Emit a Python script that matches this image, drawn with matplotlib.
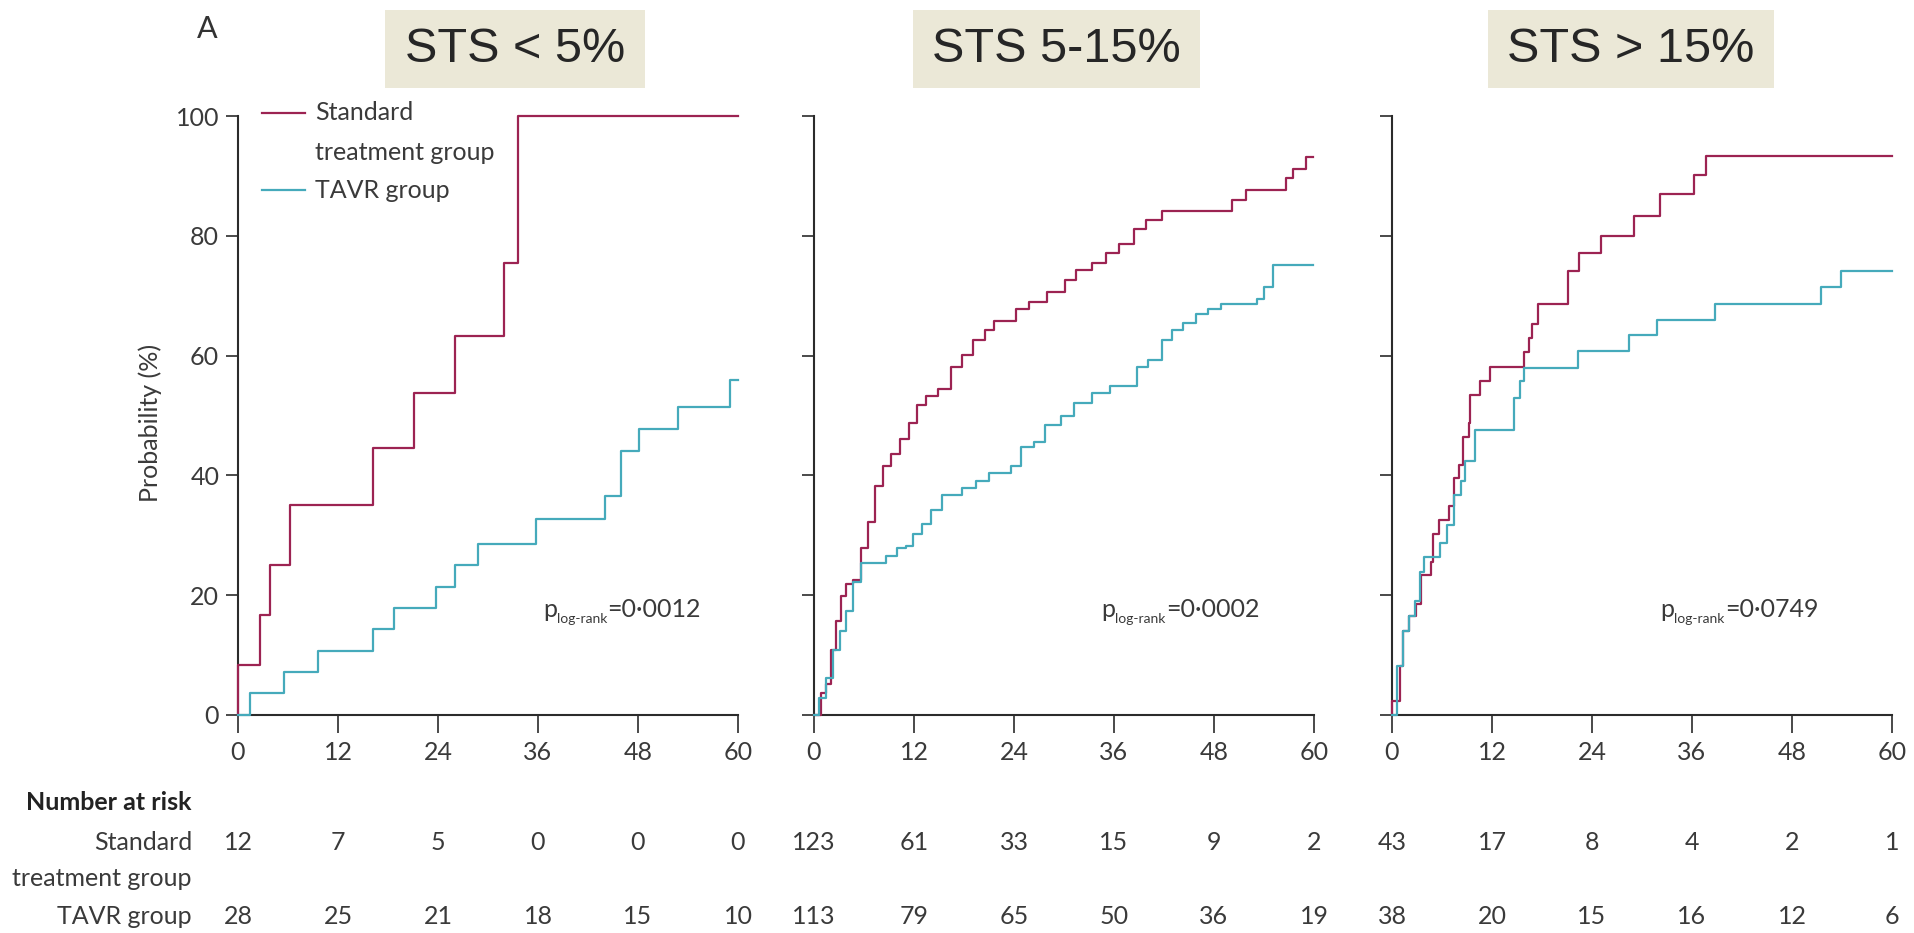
import matplotlib
matplotlib.use("Agg")
import matplotlib.pyplot as plt
from matplotlib.patches import Rectangle
from matplotlib.lines import Line2D
from matplotlib.transforms import blended_transform_factory

plt.rcParams['font.family'] = ['Lato', 'DejaVu Sans']

# ---------------- data ----------------
months = [0, 12, 24, 36, 48, 60]
yticks = [0, 20, 40, 60, 80, 100]
panel_titles = ["STS < 5%", "STS 5-15%", "STS > 15%"]
p_values = ["=0·0012", "=0·0002", "=0·0749"]

# STS < 5%
p1_std_t = [0, 0, 2.6, 3.9, 6.2, 16.2, 21.1, 26.0, 31.9, 33.6, 60]
p1_std_p = [0, 8.3, 16.7, 25.0, 35.1, 44.5, 53.8, 63.2, 75.4, 100, 100]
p1_tavr_t = [0, 1.4, 5.5, 9.6, 16.2, 18.7, 23.8, 26.0, 28.8, 35.8, 44.0, 46.0, 48.1, 52.8, 59.0, 60]
p1_tavr_p = [0, 3.6, 7.1, 10.7, 14.3, 17.9, 21.4, 25.0, 28.6, 32.7, 36.5, 44.0, 47.7, 51.4, 56.0, 56.0]

# STS 5-15%
p2_std_t = [0, 0.9, 1.4, 2.1, 2.7, 3.3, 3.8, 4.7, 5.7, 6.5, 7.3, 8.3, 9.2, 10.3, 11.4, 12.4,
            13.5, 14.9, 16.5, 17.8, 19.1, 20.5, 21.6, 24.2, 25.8, 28.0, 30.1, 31.5, 33.4, 35.0,
            36.6, 38.4, 39.8, 41.7, 50.2, 51.8, 56.7, 57.5, 59.1, 59.9]
p2_std_p = [0, 3.6, 5.2, 10.9, 15.7, 19.8, 21.8, 22.6, 27.8, 32.3, 38.3, 41.6, 43.6, 46.0, 48.8, 51.7,
            53.3, 54.5, 58.1, 60.1, 62.6, 64.2, 65.8, 67.8, 69.0, 70.6, 72.6, 74.3, 75.5, 77.1,
            78.7, 81.1, 82.7, 84.2, 86.0, 87.6, 89.6, 91.2, 93.2, 93.2]
p2_tavr_t = [0, 0.6, 1.4, 2.3, 3.1, 3.9, 4.7, 5.7, 8.7, 10.0, 11.1, 11.9, 13.0, 14.0, 15.4, 17.8,
             19.4, 21.0, 23.7, 24.8, 26.4, 27.7, 29.6, 31.2, 33.4, 35.5, 38.7, 40.1, 41.7, 43.0,
             44.3, 45.9, 47.3, 48.9, 53.2, 54.0, 55.1, 59.9]
p2_tavr_p = [0, 2.8, 6.1, 10.9, 14.1, 17.4, 22.2, 25.4, 26.6, 27.8, 28.2, 30.3, 31.9, 34.3, 36.7, 37.9,
             39.1, 40.4, 41.6, 44.8, 45.6, 48.4, 50.0, 52.1, 53.7, 54.9, 58.1, 59.3, 62.6, 64.2,
             65.4, 67.0, 67.8, 68.6, 69.4, 71.4, 75.1, 75.1]

# STS > 15%
p3_std_t = [0, 0, 1.0, 1.3, 2.0, 2.9, 3.5, 4.7, 4.9, 5.7, 6.9, 7.4, 8.0, 8.5, 9.2, 9.4, 10.6, 11.8,
            15.8, 16.5, 16.8, 17.5, 21.1, 22.5, 25.1, 29.0, 32.2, 36.2, 37.7, 60]
p3_std_p = [0, 2.3, 8.1, 14.1, 16.5, 18.6, 23.3, 25.6, 30.2, 32.5, 34.9, 39.5, 41.8, 46.4, 48.8, 53.4, 55.7, 58.1,
            60.6, 63.0, 65.3, 68.6, 74.2, 77.1, 79.9, 83.3, 86.9, 90.2, 93.4, 93.4]
p3_tavr_t = [0, 0.55, 1.3, 2.1, 2.8, 3.4, 3.8, 5.8, 6.6, 7.5, 8.3, 8.8, 10.0, 14.7, 15.4, 15.8,
             22.3, 28.4, 31.8, 38.7, 51.5, 53.9, 60]
p3_tavr_p = [0, 8.1, 14.1, 16.5, 19.0, 23.8, 26.4, 28.7, 31.7, 36.7, 39.1, 42.4, 47.6, 52.9, 55.7, 57.9,
             60.8, 63.4, 65.9, 68.6, 71.4, 74.1, 74.1]

# number at risk
risk_std = [[12, 7, 5, 0, 0, 0], [123, 61, 33, 15, 9, 2], [43, 17, 8, 4, 2, 1]]
risk_tavr = [[28, 25, 21, 18, 15, 10], [113, 79, 65, 50, 36, 19], [38, 20, 15, 16, 12, 6]]

std_t = [p1_std_t, p2_std_t, p3_std_t]
std_p = [p1_std_p, p2_std_p, p3_std_p]
tavr_t = [p1_tavr_t, p2_tavr_t, p3_tavr_t]
tavr_p = [p1_tavr_p, p2_tavr_p, p3_tavr_p]

# ---------------- style ----------------
C_STD = "#9C2352"
C_TAVR = "#45AABB"
C_TXT = "#3a3a3a"
C_AX = "#2b2b2b"
BOX = "#EBE8D7"

W, H = 1915, 933
def fx(px):
    return px / W
def fy(py):
    return 1 - py / H

fig = plt.figure(figsize=(W / 100, H / 100), dpi=100)
fig.patch.set_facecolor("white")

lefts = [238, 814, 1392]
ax_top, ax_bot, ax_w = 116, 715, 500
p_x = [36.6, 34.5, 32.2]
boxes = [(385, 10, 645, 88), (913, 10, 1200, 88), (1488, 10, 1774, 88)]

axes = []
for i in range(3):
    ax = fig.add_axes([fx(lefts[i]), fy(ax_bot), ax_w / W, (ax_bot - ax_top) / H])
    axes.append(ax)
    ax.set_xlim(0, 60)
    ax.set_ylim(0, 100)
    for s in ["top", "right"]:
        ax.spines[s].set_visible(False)
    for s in ["left", "bottom"]:
        ax.spines[s].set_linewidth(1.5)
        ax.spines[s].set_color(C_AX)
    ax.set_xticks(months)
    ax.set_yticks(yticks)
    ax.tick_params(axis="x", direction="out", length=13, width=1.2, color=C_AX,
                   labelsize=18, labelcolor=C_TXT, pad=6)
    ax.tick_params(axis="y", direction="out", length=8.5, width=1.2, color=C_AX,
                   labelsize=18, labelcolor=C_TXT, pad=5)
    if i > 0:
        ax.set_yticklabels([])

    ax.plot(std_t[i], std_p[i], drawstyle="steps-post", color=C_STD, lw=1.6,
            clip_on=False, zorder=3)
    ax.plot(tavr_t[i], tavr_p[i], drawstyle="steps-post", color=C_TAVR, lw=1.6,
            clip_on=False, zorder=3)

    # p log-rank annotation
    t1 = ax.text(p_x[i], 16.4, "p", fontsize=18, color=C_TXT, va="baseline", ha="left")
    t2 = ax.annotate("log-rank", xy=(1, 0), xycoords=t1, xytext=(0, -1.5),
                     textcoords="offset points", fontsize=10, color=C_TXT,
                     va="baseline", ha="left")
    ax.annotate(p_values[i], xy=(1, 16.4), xycoords=(t2, "data"), fontsize=18,
                color=C_TXT, va="baseline", ha="left")

    # number at risk
    tr = blended_transform_factory(ax.transData, fig.transFigure)
    for j, m in enumerate(months):
        ax.text(m, fy(842), str(risk_std[i][j]), transform=tr, ha="center", va="center",
                fontsize=18, color=C_TXT, clip_on=False)
        ax.text(m, fy(917), str(risk_tavr[i][j]), transform=tr, ha="center", va="center",
                fontsize=18, color=C_TXT, clip_on=False)

    # title box
    x0, y0, x1, y1 = boxes[i]
    fig.add_artist(Rectangle((fx(x0), fy(y1)), (x1 - x0) / W, (y1 - y0) / H,
                             transform=fig.transFigure, facecolor=BOX, edgecolor="none"))
    fig.text(fx((x0 + x1) / 2), fy(50), panel_titles[i], ha="center", va="center",
             fontsize=35, color="#262626", family=["Liberation Sans", "DejaVu Sans"])

# y label
fig.text(fx(150), fy(423), "Probability (%)", rotation=90, ha="center", va="center",
         fontsize=18, color=C_TXT)

# panel letter
fig.text(fx(207), fy(29), "A", ha="center", va="center", fontsize=22, color="#333333")

# legend (manual)
fig.add_artist(Line2D([fx(262), fx(305)], [fy(113), fy(113)], color=C_STD, lw=1.6,
                      transform=fig.transFigure))
fig.add_artist(Line2D([fx(262), fx(305)], [fy(190), fy(190)], color=C_TAVR, lw=1.6,
                      transform=fig.transFigure))
fig.text(fx(315), fy(113), "Standard", ha="left", va="center", fontsize=18, color=C_TXT)
fig.text(fx(315), fy(152), "treatment group", ha="left", va="center", fontsize=18, color=C_TXT)
fig.text(fx(315), fy(191), "TAVR group", ha="left", va="center", fontsize=18, color=C_TXT)

# number-at-risk row labels
fig.text(fx(192), fy(803), "Number at risk", ha="right", va="center", fontsize=18,
         fontweight="bold", color="#222222")
fig.text(fx(192), fy(842), "Standard", ha="right", va="center", fontsize=18, color=C_TXT)
fig.text(fx(192), fy(878), "treatment group", ha="right", va="center", fontsize=18, color=C_TXT)
fig.text(fx(192), fy(917), "TAVR group", ha="right", va="center", fontsize=18, color=C_TXT)

fig.savefig("out.png", dpi=100, facecolor="white")
